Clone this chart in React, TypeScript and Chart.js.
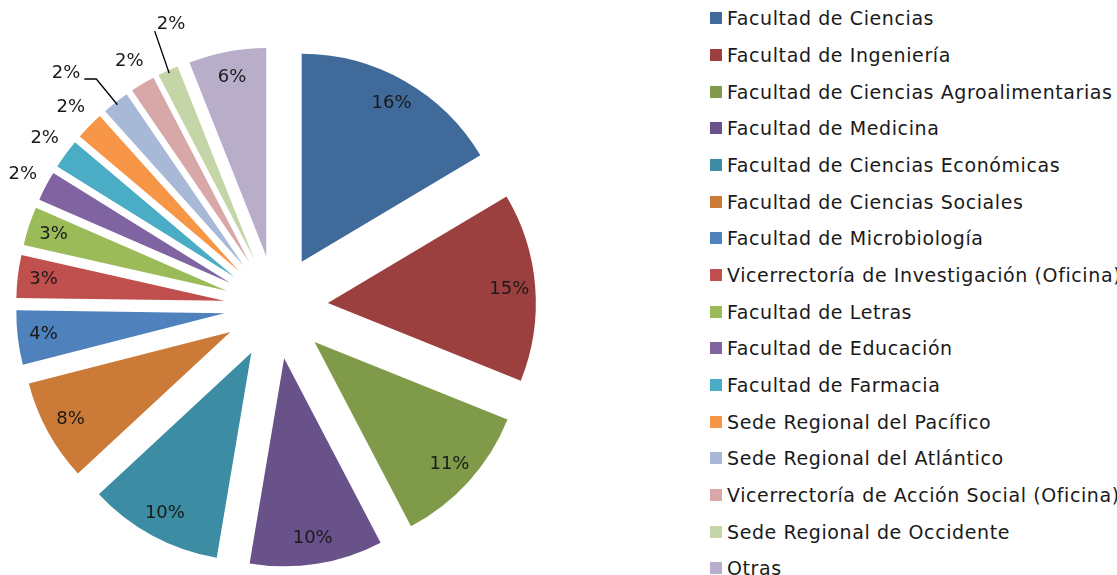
import React, { useEffect, useRef } from 'react';
import { Chart, registerables } from 'chart.js';

Chart.register(...registerables);

const categories: string[] = [
  'Facultad de Ciencias',
  'Facultad de Ingeniería',
  'Facultad de Ciencias Agroalimentarias',
  'Facultad de Medicina',
  'Facultad de Ciencias Económicas',
  'Facultad de Ciencias Sociales',
  'Facultad de Microbiología',
  'Vicerrectoría de Investigación (Oficina)',
  'Facultad de Letras',
  'Facultad de Educación',
  'Facultad de Farmacia',
  'Sede Regional del Pacífico',
  'Sede Regional del Atlántico',
  'Vicerrectoría de Acción Social (Oficina)',
  'Sede Regional de Occidente',
  'Otras',
];

const values: number[] = [16.4, 14.6, 11.2, 10.3, 10.4, 7.9, 4.2, 3.3, 3.0, 2.3, 2.3, 2.2, 2.1, 1.9, 1.6, 6.0];

const colors: string[] = [
  '#3F6A9A', '#9C403F', '#7F9A48', '#69518A', '#3C8CA3', '#CB7A37',
  '#4F81BD', '#C0504D', '#9BBB59', '#8064A2', '#4BACC6', '#F79646',
  '#A8B9D8', '#D8A8A8', '#C4D6A8', '#B8AECA',
];

const EXPLODE = 52;
const RADIUS = 208;
const FONT_FAMILY = '"DejaVu Sans", sans-serif';
const TEXT_COLOR = '#1a1a1a';

// labels that were dragged away from their default place, with a leader line
const labelNudges: Record<number, { dx: number; dy: number; anchor: 'right' | 'bottomLeft' }> = {
  12: { dx: -33.5, dy: -8.4, anchor: 'right' },
  14: { dx: 13.8, dy: -22.9, anchor: 'bottomLeft' },
};

const explodePlugin = {
  id: 'explodeSlices',
  beforeDatasetDraw(chart: any, args: any) {
    const ctx = chart.ctx;
    args.meta.data.forEach((arc: any) => {
      const mid = (arc.startAngle + arc.endAngle) / 2;
      ctx.save();
      ctx.translate(Math.cos(mid) * EXPLODE, Math.sin(mid) * EXPLODE);
      arc.draw(ctx);
      ctx.restore();
    });
    return false;
  },
};

const labelPlugin = {
  id: 'sliceLabels',
  afterDatasetsDraw(chart: any) {
    const ctx = chart.ctx;
    const meta = chart.getDatasetMeta(0);
    const data: number[] = chart.data.datasets[0].data;
    const total = data.reduce((a, b) => a + b, 0);
    ctx.save();
    ctx.font = `18px ${FONT_FAMILY}`;
    ctx.fillStyle = TEXT_COLOR;
    ctx.strokeStyle = '#000';
    ctx.lineWidth = 1.3;
    ctx.textAlign = 'center';
    ctx.textBaseline = 'middle';
    meta.data.forEach((arc: any, i: number) => {
      const { x, y, startAngle, endAngle, outerRadius } = arc.getProps(
        ['x', 'y', 'startAngle', 'endAngle', 'outerRadius'],
        true
      );
      const mid = (startAngle + endAngle) / 2;
      const cos = Math.cos(mid);
      const sin = Math.sin(mid);
      const cx = x + cos * EXPLODE;
      const cy = y + sin * EXPLODE;
      const share = data[i] / total;
      const r = share >= 0.025 ? outerRadius * 0.875 : outerRadius + 26;
      let lx = cx + cos * r;
      let ly = cy + sin * r;
      const text = `${Math.round(share * 100)}%`;
      const nudge = labelNudges[i];
      if (nudge) {
        lx += nudge.dx;
        ly += nudge.dy;
        const w = ctx.measureText(text).width;
        const ex = cx + cos * (outerRadius - 3);
        const ey = cy + sin * (outerRadius - 3);
        ctx.beginPath();
        if (nudge.anchor === 'right') {
          const sx = lx + w / 2 + 4;
          const sy = ly + 5.5;
          ctx.moveTo(sx, sy);
          ctx.lineTo(sx + 12, sy);
          ctx.lineTo(ex, ey);
        } else {
          const sx = lx - w / 2 - 2;
          const sy = ly + 7;
          ctx.moveTo(sx, sy);
          ctx.lineTo(ex, ey);
        }
        ctx.stroke();
      }
      ctx.fillText(text, lx, ly);
    });
    ctx.restore();
  },
};

export default function App() {
  const canvasRef = useRef<HTMLCanvasElement | null>(null);

  useEffect(() => {
    if (!canvasRef.current) return;
    const chart = new Chart(canvasRef.current, {
      type: 'pie',
      data: {
        labels: categories,
        datasets: [
          {
            data: values,
            backgroundColor: colors,
            borderWidth: 0,
            hoverOffset: 0,
          },
        ],
      },
      options: {
        responsive: false,
        animation: false,
        radius: RADIUS,
        layout: { padding: { left: 0, right: 148, top: 39, bottom: 0 } },
        plugins: {
          legend: { display: false },
          tooltip: { enabled: false },
        },
        events: [],
      } as any,
      plugins: [explodePlugin, labelPlugin],
    });
    return () => chart.destroy();
  }, []);

  return (
    <div style={{ position: 'absolute', left: 0, top: 0, width: 1117, height: 575, background: '#fff', overflow: 'hidden' }}>
      <canvas ref={canvasRef} width={700} height={575} style={{ position: 'absolute', left: 0, top: 0 }} />
      <div style={{ position: 'absolute', left: 710, top: 0 }}>
        {categories.map((c, i) => (
          <div key={c} style={{ display: 'flex', alignItems: 'center', height: 36.67 }}>
            <span style={{ display: 'inline-block', width: 12, height: 12, background: colors[i], marginRight: 5, flex: 'none' }} />
            <span style={{ font: `19px ${FONT_FAMILY}`, letterSpacing: '0.6px', color: TEXT_COLOR, whiteSpace: 'nowrap' }}>{c}</span>
          </div>
        ))}
      </div>
    </div>
  );
}
